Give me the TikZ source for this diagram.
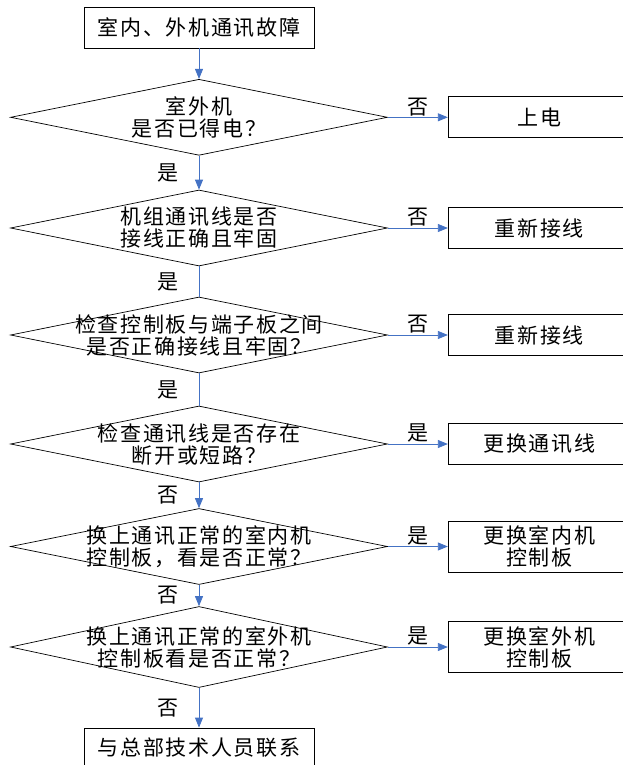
\documentclass[tikz,border=0pt]{standalone}
\usepackage{fontspec}
\newfontfamily\cjk[LetterSpace=8]{Noto Sans CJK SC}
\usepackage{xcolor}
\usepackage{tikz}
\usetikzlibrary{shapes.geometric}
\usetikzlibrary{arrows.meta}
\usetikzlibrary{positioning}
\definecolor{flowblue}{HTML}{4472C4}
\newcommand{\cjkfont}{\cjk\fontsize{21}{22}\selectfont}

\begin{document}
\begin{tikzpicture}[x=1pt,y=-1pt,node distance=60pt,
          box/.style={draw,line width=0.8pt,minimum width=230pt,minimum height=41pt,font=\cjkfont},
          side/.style={draw,line width=0.8pt,minimum width=182pt,minimum height=41pt,align=center,font=\cjkfont},
          dia/.style={draw,diamond,line width=0.7pt,minimum width=377pt,minimum height=76pt,inner sep=0pt},
          txt/.style={align=center,font=\cjkfont,inner sep=0pt},
          lab/.style={text=black,font=\cjkfont,inner sep=1pt},
          arr/.style={flowblue,line width=0.8pt,-{Triangle[length=10pt,width=8pt]}},
          ln/.style={flowblue,line width=0.8pt}]
          \useasboundingbox (0,0) rectangle (622,765);
          \node[box](start) at (199,27.5){室内、外机通讯故障};
          \node[dia,label={[txt]center:{室外机\\是否已得电？}}](d1) at (199,117.3){};
          \node[dia,label={[txt]center:{机组通讯线是否\\接线正确且牢固}}](d2) at (199,228){};
          \node[dia,label={[txt]center:{检查控制板与端子板之间\\是否正确接线且牢固？}}](d3) at (199,335){};
          \node[dia,label={[txt]center:{检查通讯线是否存在\\断开或短路？}}](d4) at (199,444){};
          \node[dia,label={[txt]center:{换上通讯正常的室内机\\控制板，看是否正常？}}](d5) at (199,546.5){};
          \node[dia,minimum height=81pt,label={[txt]center:{换上通讯正常的室外机\\控制板看是否正常？}}](d6) at (199,647){};
          \node[box,minimum height=40pt](stop) at (199,748){与总部技术人员联系};
          \node[side,right=of d1](b1){上电};
          \node[side,right=of d2](b2){重新接线};
          \node[side,right=of d3](b3){重新接线};
          \node[side,right=of d4](b4){更换通讯线};
          \node[side,minimum height=51pt,right=of d5](b5){更换室内机\\控制板};
          \node[side,minimum height=51pt,right=of d6](b6){更换室外机\\控制板};
          % main column
          \draw[arr](start)--(d1);
          \draw[arr](d1)--node[lab,left=19pt]{是}(d2);
          \draw[ln](d2)--node[lab,left=19pt]{是}(d3);
          \draw[ln](d3)--node[lab,left=19pt]{是}(d4);
          \draw[arr](d4)--node[lab,left=19pt]{否}(d5);
          \draw[arr](d5)--node[lab,left=19pt]{否}(d6);
          \draw[arr](d6)--node[lab,left=19pt]{否}(stop);
          % side branches
          \draw[arr](d1)--node[lab,above]{否}(b1);
          \draw[arr](d2)--node[lab,above]{否}(b2);
          \draw[arr](d3)--node[lab,above]{否}(b3);
          \draw[arr](d4)--node[lab,above]{是}(b4);
          \draw[arr](d5)--node[lab,above]{是}(b5);
          \draw[arr](d6)--node[lab,above]{是}(b6);
        \end{tikzpicture}
\end{document}
